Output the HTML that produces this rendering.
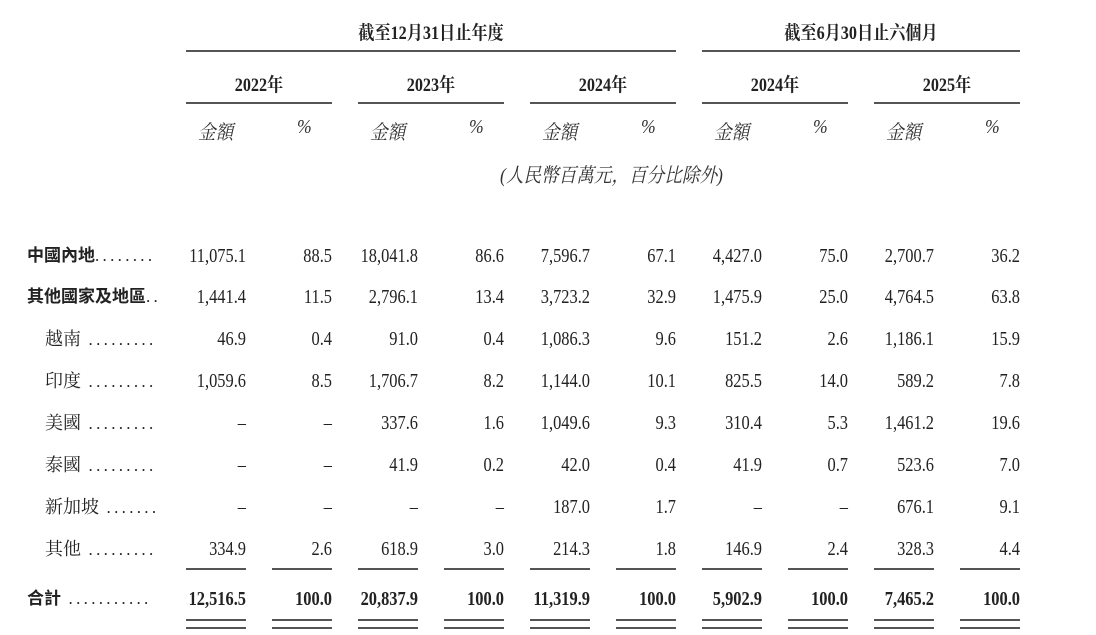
<!DOCTYPE html>
<html><head><meta charset="utf-8"><style>
body{margin:0;width:1096px;height:635px;background:#fff;position:relative;overflow:hidden;color:#222;font-family:"Liberation Serif","Noto Serif CJK SC",serif}
.n{position:absolute;font-size:20px;line-height:20px;white-space:nowrap;transform:scaleX(.82);transform-origin:right center;text-align:right;width:120px}
.b{font-weight:bold}
.l{position:absolute;font-size:18px;line-height:20px;white-space:nowrap}
.ls{font-family:"Liberation Sans","Noto Sans CJK SC",sans-serif;font-weight:bold;font-size:17px}
.d{font-family:"Liberation Serif",serif;font-weight:normal;font-size:17px;letter-spacing:3.3px}
.h{position:absolute;font-weight:bold;font-size:19px;white-space:nowrap;transform:scaleX(.85);transform-origin:center;text-align:center}
.i{position:absolute;font-style:italic;font-size:20px;white-space:nowrap;color:#333;transform:scaleX(.88);transform-origin:left center}
.r{position:absolute;height:2px;background:#555}
</style></head><body>
<div class="h" style="left:331px;width:200px;top:18px">截至12月31日止年度</div>
<div class="h" style="left:761px;width:200px;top:18px">截至6月30日止六個月</div>
<div class="r" style="left:186px;width:490px;top:50px"></div>
<div class="r" style="left:702px;width:318px;top:50px"></div>
<div class="h" style="left:186px;width:146px;top:70px">2022年</div>
<div class="h" style="left:358px;width:146px;top:70px">2023年</div>
<div class="h" style="left:530px;width:146px;top:70px">2024年</div>
<div class="h" style="left:702px;width:146px;top:70px">2024年</div>
<div class="h" style="left:874px;width:146px;top:70px">2025年</div>
<div class="r" style="left:186px;width:146px;top:102px"></div>
<div class="r" style="left:358px;width:146px;top:102px"></div>
<div class="r" style="left:530px;width:146px;top:102px"></div>
<div class="r" style="left:702px;width:146px;top:102px"></div>
<div class="r" style="left:874px;width:146px;top:102px"></div>
<div class="i" style="left:198px;top:116px">金額</div><div class="i" style="left:297px;top:116px">%</div>
<div class="i" style="left:370px;top:116px">金額</div><div class="i" style="left:469px;top:116px">%</div>
<div class="i" style="left:542px;top:116px">金額</div><div class="i" style="left:641px;top:116px">%</div>
<div class="i" style="left:714px;top:116px">金額</div><div class="i" style="left:813px;top:116px">%</div>
<div class="i" style="left:886px;top:116px">金額</div><div class="i" style="left:985px;top:116px">%</div>
<div class="i" style="left:500px;top:159px">(人民幣百萬元，百分比除外)</div>
<div id="t"></div>
<script>
var rows=[
["中國內地","........",1,246,["11,075.1","88.5","18,041.8","86.6","7,596.7","67.1","4,427.0","75.0","2,700.7","36.2"]],
["其他國家及地區","..",1,287,["1,441.4","11.5","2,796.1","13.4","3,723.2","32.9","1,475.9","25.0","4,764.5","63.8"]],
["越南"," .........",0,329,["46.9","0.4","91.0","0.4","1,086.3","9.6","151.2","2.6","1,186.1","15.9"]],
["印度"," .........",0,371,["1,059.6","8.5","1,706.7","8.2","1,144.0","10.1","825.5","14.0","589.2","7.8"]],
["美國"," .........",0,413,["–","–","337.6","1.6","1,049.6","9.3","310.4","5.3","1,461.2","19.6"]],
["泰國"," .........",0,455,["–","–","41.9","0.2","42.0","0.4","41.9","0.7","523.6","7.0"]],
["新加坡"," .......",0,497,["–","–","–","–","187.0","1.7","–","–","676.1","9.1"]],
["其他"," .........",0,539,["334.9","2.6","618.9","3.0","214.3","1.8","146.9","2.4","328.3","4.4"]],
["合計"," ...........",2,589,["12,516.5","100.0","20,837.9","100.0","11,319.9","100.0","5,902.9","100.0","7,465.2","100.0"]]];
var rights=[246,332,418,504,590,676,762,848,934,1020],h="";
rows.forEach(function(r){
 var left=r[2]==0?45:27;
 h+='<div class="l'+(r[2]?' ls':'')+'" style="left:'+left+'px;top:'+r[3]+'px">'+r[0]+'<span class="d">'+r[1]+'</span></div>';
 r[4].forEach(function(v,k){h+='<div class="n'+(r[2]==2?' b':'')+'" style="left:'+(rights[k]-120)+'px;top:'+r[3]+'px">'+v+'</div>';});
});
rights.forEach(function(x){
 h+='<div class="r" style="left:'+(x-60)+'px;width:60px;top:568px"></div>';
 h+='<div class="r" style="left:'+(x-60)+'px;width:60px;top:619px"></div>';
 h+='<div class="r" style="left:'+(x-60)+'px;width:60px;top:627px"></div>';
});
document.getElementById('t').innerHTML=h;
</script>
</body></html>
